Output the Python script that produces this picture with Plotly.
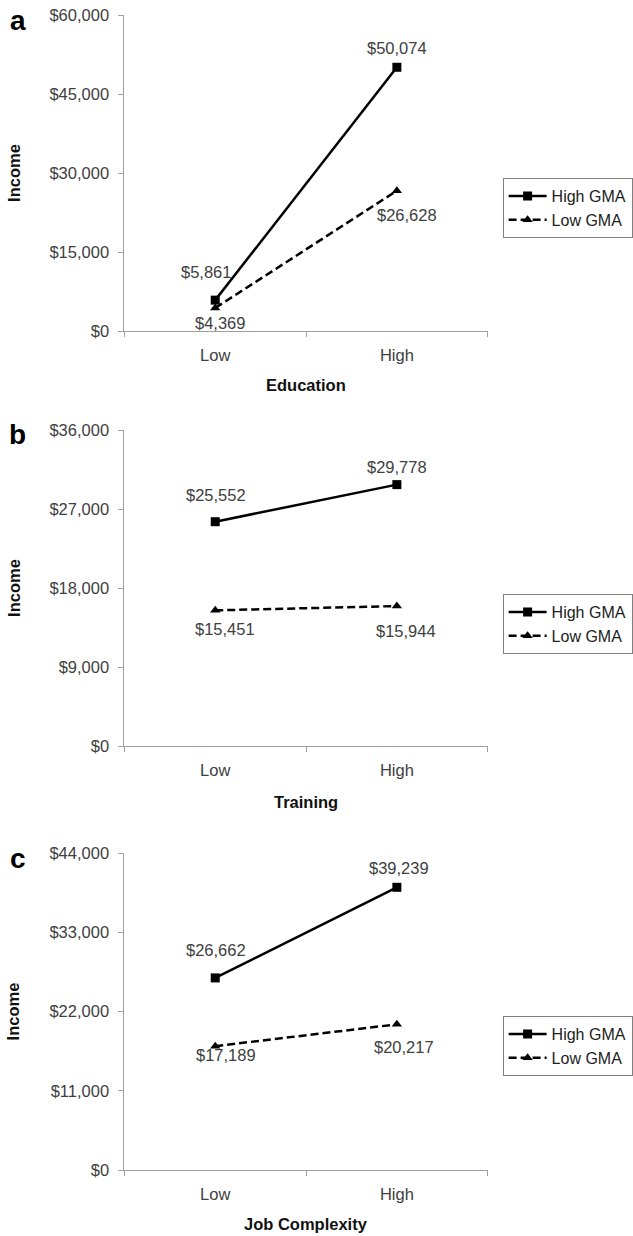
import plotly.graph_objects as go

categories = ["Low", "High"]

# Panel a: Education
edu_high = [5861, 50074]
edu_low = [4369, 26628]
# Panel b: Training
tr_high = [25552, 29778]
tr_low = [15451, 15944]
# Panel c: Job Complexity
jc_high = [26662, 39239]
jc_low = [17189, 20217]

panel_letters = ["a", "b", "c"]
x_titles = ["Education", "Training", "Job Complexity"]
y_ticks = [
    [0, 15000, 30000, 45000, 60000],
    [0, 9000, 18000, 27000, 36000],
    [0, 11000, 22000, 33000, 44000],
]
series = [(edu_high, edu_low), (tr_high, tr_low), (jc_high, jc_low)]

# label pixel offsets (dx, dy-up) for [Low, High] of each series
high_off = [[(-9, 28), (0, 19)], [(1, 27), (0, 18)], [(1, 28), (2, 19)]]
low_off = [[(5, -15), (10, -24)], [(10, -19), (9, -25)], [(11, -9), (7, -23)]]

W, H = 633, 1236
boxes = [(15, 331), (430, 746), (853, 1170)]
x0_px, x1_px = 125, 490
legend_tops = [178, 594, 1016]
xtitle_gap = [54, 56, 54]

FONT = "Arial, Liberation Sans, sans-serif"
TXT = "#404040"
AX = "#a0a0a0"
FS = 16.5


def fy(px):
    return 1 - px / H


fig = go.Figure()
layout = dict(
    width=W, height=H, margin=dict(l=0, r=0, t=0, b=0, pad=0),
    paper_bgcolor="white", plot_bgcolor="white",
    font=dict(family=FONT, color=TXT, size=FS),
    annotations=[], showlegend=True,
)

for i, (hi, lo) in enumerate(series):
    n = "" if i == 0 else str(i + 1)
    xa, ya = "x" + n, "y" + n
    leg = "legend" + n
    fig.add_trace(go.Scatter(
        x=categories, y=hi, xaxis=xa, yaxis=ya, name="High GMA",
        mode="lines+markers", legend=leg,
        line=dict(color="black", width=2.5),
        marker=dict(symbol="square", size=9, color="black"),
        cliponaxis=False,
    ))
    fig.add_trace(go.Scatter(
        x=categories, y=lo, xaxis=xa, yaxis=ya, name="Low GMA",
        mode="lines+markers", legend=leg,
        line=dict(color="black", width=2.5, dash="8px,4px"),
        marker=dict(symbol="triangle-up", size=9, color="black"),
        cliponaxis=False,
    ))
    for vals, offs in ((hi, high_off[i]), (lo, low_off[i])):
        for c, v, (dx, dy) in zip(categories, vals, offs):
            layout["annotations"].append(dict(
                x=c, y=v, xref=xa, yref=ya, text="${:,}".format(v),
                showarrow=False, xanchor="center", yanchor="middle",
                xshift=dx, yshift=dy,
                font=dict(family=FONT, size=FS, color=TXT),
            ))
    top, bot = boxes[i]
    layout["xaxis" + n] = dict(
        domain=[x0_px / W, x1_px / W], anchor=ya,
        type="category", categoryorder="array", categoryarray=categories,
        range=[-0.5, 1.5], tickson="boundaries", ticks="outside", ticklen=5,
        tickcolor=AX, showline=True, linecolor=AX, linewidth=1,
        showgrid=False, zeroline=False, automargin=False,
        ticklabelstandoff=9,
        tickfont=dict(family=FONT, size=FS, color=TXT),
    )
    layout["yaxis" + n] = dict(
        domain=[fy(bot), fy(top)], anchor=xa,
        range=[0, y_ticks[i][-1]], tickvals=y_ticks[i], tickformat="$,.0f",
        ticks="outside", ticklen=5, tickcolor=AX,
        showline=True, linecolor=AX, linewidth=1,
        showgrid=False, zeroline=False, automargin=False,
        ticklabelstandoff=6,
        tickfont=dict(family=FONT, size=FS, color=TXT),
    )
    layout[leg] = dict(
        x=505 / W, y=fy(legend_tops[i]), xanchor="left", yanchor="top",
        bordercolor="#808080", borderwidth=1, bgcolor="white",
        font=dict(family=FONT, size=16, color="#222222"),
        itemwidth=38,
    )
    layout["annotations"] += [
        dict(text="<b>%s</b>" % panel_letters[i], xref="paper", yref="paper",
             x=18 / W, y=fy(top + 5), xanchor="center", yanchor="middle",
             showarrow=False, font=dict(family=FONT, size=28, color="black")),
        dict(text="<b>Income</b>", xref="paper", yref="paper", textangle=-90,
             x=14 / W, y=fy((top + bot) / 2), xanchor="center", yanchor="middle",
             showarrow=False, font=dict(family=FONT, size=16.5, color="#111111")),
        dict(text="<b>%s</b>" % x_titles[i], xref="paper", yref="paper",
             x=(x0_px + x1_px) / 2 / W, y=fy(bot + xtitle_gap[i]),
             xanchor="center", yanchor="middle",
             showarrow=False, font=dict(family=FONT, size=16.5, color="#111111")),
    ]

fig.update_layout(**layout)
fig.write_html(
    "out.html",
    config={"displayModeBar": False},
    post_script="document.body.style.margin='0';document.body.style.overflow='hidden';",
)
